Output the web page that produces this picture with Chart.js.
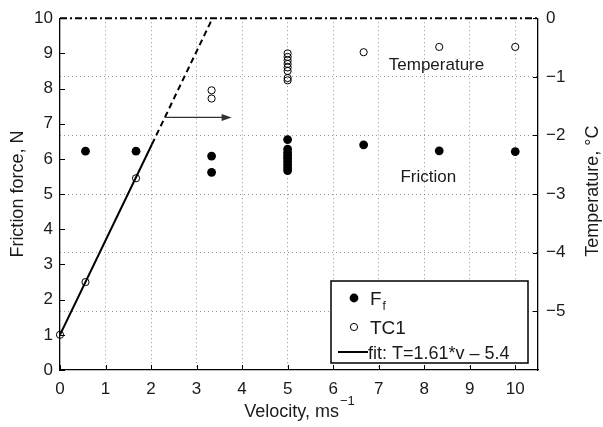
<!DOCTYPE html>
<html>
<head>
<meta charset="utf-8">
<script src="https://cdn.jsdelivr.net/npm/chart.js@4.4.0/dist/chart.umd.min.js"></script>
<style>
    html, body { margin: 0; padding: 0; background: #fff; }
</style>
</head>
<body>
<canvas id="graph" width="603" height="427"></canvas>
<script>
// friction force (left axis, N) against velocity
const frictionV = [0.56, 1.67, 3.33, 3.33, 5, 5, 5, 5, 5, 5, 5, 5, 5, 6.67, 8.33, 10];
const frictionF = [6.22, 6.22, 6.08, 5.62, 6.55, 6.28, 6.18, 6.10, 6.02, 5.93, 5.84, 5.75, 5.67, 6.40, 6.23, 6.21];

// TC1 temperature (right axis, degC) against velocity
const tempV = [0, 0.56, 1.67, 3.33, 3.33, 5, 5, 5, 5, 5, 5, 5, 5, 6.67, 8.33, 10];
const tempT = [-5.4, -4.5, -2.73, -1.23, -1.37, -0.6, -0.66, -0.72, -0.78, -0.84, -0.9, -1.02, -1.06, -0.58, -0.49, -0.49];

// fit T = 1.61*v - 5.4, solid part then dashed continuation up to 0 degC
const fitV = [0, 2.02];
const fitT = [-5.4, -2.15];
const fitExtV = [2.02, 3.35];
const fitExtT = [-2.15, 0];

// 0 degC line along the top
const zeroV = [0, 10.5];
const zeroT = [0, 0];

// tick labels
const xTicks = [0, 1, 2, 3, 4, 5, 6, 7, 8, 9, 10];
const leftTicks = [0, 1, 2, 3, 4, 5, 6, 7, 8, 9, 10];
const rightTicks = [-5, -4, -3, -2, -1, 0];

const FONT = "'Liberation Sans', Arial, sans-serif";
const GRID = 'rgba(60,60,60,0.55)';

function pts(xs, ys) {
    return xs.map((v, i) => ({x: v, y: ys[i]}));
}

// axis titles, inward ticks, arrow, labels and the legend box
const decorations = {
    id: 'decorations',
    afterDraw(chart) {
        const ctx = chart.ctx;
        const a = chart.chartArea;
        const sx = chart.scales.x, sy = chart.scales.y, sr = chart.scales.y1;
        ctx.save();

        // inward tick marks
        ctx.strokeStyle = '#000';
        ctx.lineWidth = 1;
        ctx.beginPath();
        sx.ticks.forEach(t => {
            const p = Math.round(sx.getPixelForValue(t.value)) + 0.5;
            ctx.moveTo(p, a.bottom); ctx.lineTo(p, a.bottom - 5);
        });
        sy.ticks.forEach(t => {
            const p = Math.round(sy.getPixelForValue(t.value)) + 0.5;
            ctx.moveTo(a.left, p); ctx.lineTo(a.left + 5, p);
        });
        sr.ticks.forEach(t => {
            const p = Math.round(sr.getPixelForValue(t.value)) + 0.5;
            ctx.moveTo(a.right, p); ctx.lineTo(a.right - 5, p);
        });
        ctx.stroke();

        // arrow pointing from the fit towards the temperature points
        const x0 = sx.getPixelForValue(2.3), x1 = sx.getPixelForValue(3.77);
        const ay = sy.getPixelForValue(7.18);
        ctx.strokeStyle = '#333';
        ctx.fillStyle = '#333';
        ctx.lineWidth = 1.2;
        ctx.beginPath();
        ctx.moveTo(x0, ay); ctx.lineTo(x1 - 6, ay);
        ctx.stroke();
        ctx.beginPath();
        ctx.moveTo(x1, ay); ctx.lineTo(x1 - 10, ay - 3.5); ctx.lineTo(x1 - 10, ay + 3.5);
        ctx.closePath();
        ctx.fill();

        // text labels inside the plot
        ctx.fillStyle = '#1a1a1a';
        ctx.font = '17px ' + FONT;
        ctx.textAlign = 'center';
        ctx.textBaseline = 'middle';
        ctx.fillText('Temperature', sx.getPixelForValue(8.27), sy.getPixelForValue(8.65));
        ctx.fillText('Friction', sx.getPixelForValue(8.09), sy.getPixelForValue(5.49));

        // axis titles
        ctx.textBaseline = 'alphabetic';
        ctx.font = '18px ' + FONT;
        const mainTxt = 'Velocity, ms';
        const supTxt = '\u22121';
        const w1 = ctx.measureText(mainTxt).width;
        ctx.font = '13px ' + FONT;
        const w2 = ctx.measureText(supTxt).width;
        const startX = (a.left + a.right) / 2 - (w1 + w2) / 2;
        ctx.textAlign = 'left';
        ctx.font = '18px ' + FONT;
        ctx.fillText(mainTxt, startX, 417);
        ctx.font = '13px ' + FONT;
        ctx.fillText(supTxt, startX + w1 + 1, 405);

        ctx.textAlign = 'center';
        ctx.font = '18px ' + FONT;
        const midY = (a.top + a.bottom) / 2;
        ctx.save();
        ctx.translate(23, midY);
        ctx.rotate(-Math.PI / 2);
        ctx.fillText('Friction force, N', 0, 0);
        ctx.restore();
        ctx.save();
        ctx.translate(598, midY - 3);
        ctx.rotate(-Math.PI / 2);
        ctx.fillText('Temperature, \u00B0C', 0, 0);
        ctx.restore();

        // legend box
        const bw = 197, bh = 82;
        const bx = a.right - 10 - bw, by = a.bottom - 7 - bh;
        ctx.fillStyle = '#fff';
        ctx.fillRect(bx, by, bw, bh);
        ctx.strokeStyle = '#000';
        ctx.lineWidth = 1.5;
        ctx.strokeRect(bx, by, bw, bh);

        const ff = chart.data.datasets[1], tc = chart.data.datasets[0], fit = chart.data.datasets[2];
        ctx.beginPath();
        ctx.arc(bx + 23, by + 17, ff.pointRadius, 0, Math.PI * 2);
        ctx.fillStyle = ff.pointBackgroundColor;
        ctx.fill();
        ctx.beginPath();
        ctx.arc(bx + 23, by + 46, tc.pointRadius, 0, Math.PI * 2);
        ctx.strokeStyle = tc.pointBorderColor;
        ctx.lineWidth = tc.pointBorderWidth;
        ctx.stroke();
        ctx.beginPath();
        ctx.moveTo(bx + 7, by + 71); ctx.lineTo(bx + 37, by + 71);
        ctx.strokeStyle = fit.borderColor;
        ctx.lineWidth = fit.borderWidth;
        ctx.stroke();

        ctx.fillStyle = '#1a1a1a';
        ctx.textAlign = 'left';
        ctx.font = '19px ' + FONT;
        ctx.fillText('F', bx + 39, by + 24);
        const fw = ctx.measureText('F').width;
        ctx.font = '12px ' + FONT;
        ctx.fillText('f', bx + 39 + fw + 1, by + 29);
        ctx.font = '19px ' + FONT;
        ctx.fillText('TC1', bx + 39, by + 53);
        ctx.font = '18px ' + FONT;
        ctx.fillText('fit: T=1.61*v \u2013 5.4', bx + 37, by + 78);

        ctx.restore();
    }
};

const ctx = document.getElementById('graph').getContext('2d');

const myChart = new Chart(ctx, {
    type: 'scatter',
    data: {
        datasets: [{
            label: 'TC1',
            data: pts(tempV, tempT),
            yAxisID: 'y1',
            pointRadius: 3.6,
            pointBackgroundColor: 'rgba(255,255,255,0)',
            pointBorderColor: '#000',
            pointBorderWidth: 1,
            clip: false
        }, {
            label: 'Ff',
            data: pts(frictionV, frictionF),
            yAxisID: 'y',
            pointRadius: 4.4,
            pointBackgroundColor: '#000',
            pointBorderColor: '#000',
            pointBorderWidth: 0
        }, {
            label: 'fit',
            data: pts(fitV, fitT),
            yAxisID: 'y1',
            showLine: true,
            borderColor: '#000',
            borderWidth: 2,
            pointRadius: 0
        }, {
            label: 'fit extension',
            data: pts(fitExtV, fitExtT),
            yAxisID: 'y1',
            showLine: true,
            borderColor: '#000',
            borderWidth: 2,
            borderDash: [6, 4],
            pointRadius: 0
        }, {
            label: 'zero',
            data: pts(zeroV, zeroT),
            yAxisID: 'y1',
            showLine: true,
            borderColor: '#000',
            borderWidth: 2,
            borderDash: [7, 3, 2, 3],
            pointRadius: 0,
            clip: false
        }]
    },
    options: {
        responsive: false,
        animation: false,
        devicePixelRatio: 1,
        layout: {padding: {top: 15, left: 0, right: 0, bottom: 0}},
        plugins: {
            legend: {display: false},
            tooltip: {enabled: false}
        },
        scales: {
            x: {
                type: 'linear',
                position: 'bottom',
                min: 0,
                max: 10.5,
                afterFit: s => { s.height = 57; },
                afterBuildTicks: s => { s.ticks = xTicks.map(v => ({value: v})); },
                ticks: {
                    font: {family: FONT, size: 17},
                    color: '#1a1a1a',
                    padding: 9,
                    maxRotation: 0
                },
                grid: {
                    color: c => (c.tick && c.tick.value === 0) ? 'rgba(0,0,0,0)' : GRID,
                    lineWidth: 1,
                    drawTicks: false
                },
                border: {display: true, color: '#000', width: 1.3, dash: [1, 3]}
            },
            y: {
                position: 'left',
                min: 0,
                max: 10,
                afterFit: s => { s.width = 60; },
                afterBuildTicks: s => { s.ticks = leftTicks.map(v => ({value: v})); },
                ticks: {
                    font: {family: FONT, size: 17},
                    color: '#1a1a1a',
                    padding: 7
                },
                grid: {display: false, drawTicks: false},
                border: {display: true, color: '#000', width: 1.3}
            },
            y1: {
                position: 'right',
                min: -6,
                max: 0,
                afterFit: s => { s.width = 65; },
                afterBuildTicks: s => { s.ticks = rightTicks.map(v => ({value: v})); },
                ticks: {
                    font: {family: FONT, size: 17},
                    color: '#1a1a1a',
                    padding: 8,
                    callback: v => v < 0 ? '\u2212' + Math.abs(v) : String(v)
                },
                grid: {
                    color: c => (c.tick && c.tick.value === 0) ? 'rgba(0,0,0,0)' : GRID,
                    lineWidth: 1,
                    drawTicks: false
                },
                border: {display: true, color: '#000', width: 1.3, dash: [1, 3]}
            }
        }
    },
    plugins: [decorations]
});
</script>
</body>
</html>
